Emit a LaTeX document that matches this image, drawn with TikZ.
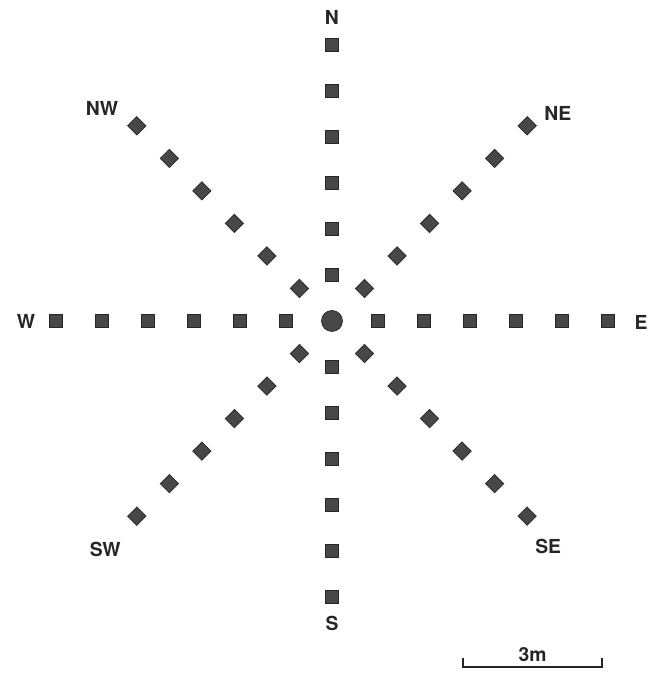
\documentclass[tikz,border=0pt]{standalone}
\usepackage{fontspec}
\setmainfont{TeX Gyre Heros}
\usetikzlibrary{calc,positioning}
\begin{document}
\begin{tikzpicture}[x=0.92cm,y=0.92cm,
	peg/.style={rectangle,draw=black!85,fill=black!72,minimum size=0.26cm,inner sep=0},
	dirlabel/.style={font=\fontsize{11}{13}\selectfont\bfseries,text=black!85,inner sep=0}]
	\useasboundingbox (-7.217,-7.783) rectangle (6.913,6.978);
	\node[circle,draw=black!85,fill=black!72,minimum size=0.42cm,inner sep=0] (ctr) at (0,0) {};
	% eight rows of six pegs, 1 m apart
	\foreach \d/\a in {E/0,NE/45,N/90,NW/135,W/180,SW/225,S/270,SE/315}
		\foreach \i in {1,...,6}
			\node[peg,rotate=\a] (\d\i) at (\a:\i) {};
	\node[dirlabel] (lN) at (0,6.59) {N};
	\node[dirlabel] (lS) at (0,-6.57) {S};
	\node[dirlabel] (lW) at (-6.65,0) {W};
	\node[dirlabel] (lE) at (6.72,-0.04) {E};
	\node[dirlabel] (lNW) at (-5.0,4.63) {NW};
	\node[dirlabel] (lNE) at (4.91,4.52) {NE};
	\node[dirlabel] (lSW) at (-4.93,-4.96) {SW};
	\node[dirlabel] (lSE) at (4.70,-4.91) {SE};
	% scale bar
	\coordinate (bar0) at (2.85,-7.52);
	\coordinate (bar1) at (5.87,-7.52);
	\draw[line width=0.7pt,black!85] ([yshift=0.18cm]bar0) -- (bar0) -- (bar1) -- ([yshift=0.18cm]bar1);
	\node[dirlabel,above=0.1cm] (barlbl) at ($(bar0)!0.5!(bar1)$) {3m};
\end{tikzpicture}
\end{document}
